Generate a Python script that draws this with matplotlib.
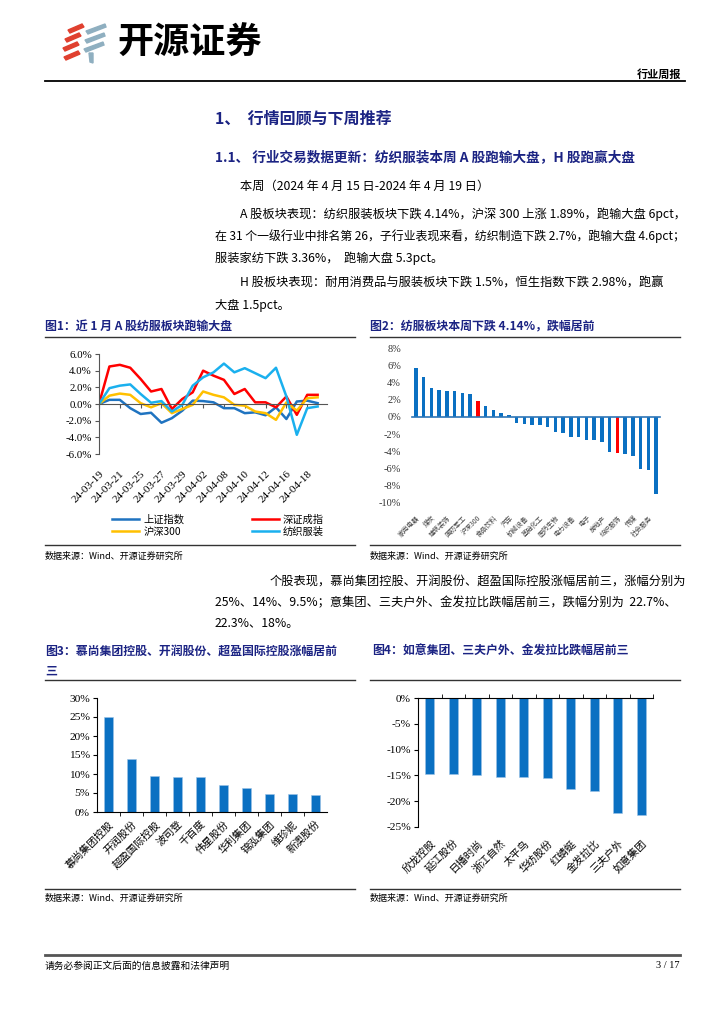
import matplotlib
matplotlib.use('Agg')
import matplotlib.pyplot as plt
from matplotlib.patches import Polygon
from matplotlib.lines import Line2D
import numpy as np

plt.rcParams['font.family'] = ['Noto Sans CJK SC', 'DejaVu Sans']
plt.rcParams['axes.unicode_minus'] = False

# ---------------- data ----------------
dates = ['24-03-19', '24-03-20', '24-03-21', '24-03-22', '24-03-25', '24-03-26',
         '24-03-27', '24-03-28', '24-03-29', '24-04-01', '24-04-02', '24-04-03',
         '24-04-08', '24-04-09', '24-04-10', '24-04-11', '24-04-12', '24-04-15',
         '24-04-16', '24-04-17', '24-04-18', '24-04-19']
sh_index = [0.0, 0.5, 0.5, -0.5, -1.2, -1.05, -2.25, -1.7, -0.8, 0.4, 0.35, 0.2,
            -0.5, -0.5, -1.1, -1.0, -1.35, -0.4, -1.8, 0.3, 0.4, 0.1]
sz_index = [0.0, 4.5, 4.7, 4.35, 3.0, 1.5, 1.8, -0.6, 0.6, 1.4, 4.0, 3.4,
            2.9, 1.2, 1.8, 0.2, 0.2, -0.4, 0.9, -1.3, 1.1, 1.1]
hs300 = [0.0, 1.0, 1.25, 1.1, 0.1, -0.4, 0.1, -1.1, -0.6, -0.1, 1.5, 1.1,
         0.8, -0.1, -0.2, -0.9, -1.1, -1.9, 0.2, -0.8, 0.7, 0.8]
textile = [0.0, 1.9, 2.2, 2.35, 1.2, 0.15, 0.35, -0.9, -0.1, 2.2, 3.2, 3.8,
           4.85, 3.8, 4.3, 3.7, 3.1, 4.35, 0.9, -3.7, -0.5, -0.3]
legend_names = ['上证指数', '深证成指', '沪深300', '纺织服装']

industries = ['家用电器', '有色金属', '煤炭', '石油石化', '建筑装饰', '银行', '国防军工',
              '公用事业', '沪深300', '交通运输', '食品饮料', '非银金融', '汽车', '钢铁',
              '机械设备', '建筑材料', '基础化工', '通信', '医药生物', '环保', '电力设备',
              '农林牧渔', '电子', '轻工制造', '房地产', '商贸零售', '纺织服饰', '美容护理',
              '传媒', '计算机', '社会服务', '综合']
industry_chg = [5.65, 4.58, 3.35, 3.08, 3.0, 3.0, 2.77, 2.69, 1.89, 1.27, 0.77, 0.46,
                0.19, -0.69, -0.77, -0.92, -0.96, -1.15, -1.77, -1.88, -2.3, -2.38,
                -2.65, -2.73, -2.92, -4.04, -4.14, -4.27, -4.54, -6.04, -6.12, -8.96]
highlight = ['沪深300', '纺织服饰']

gainers = ['慕尚集团控股', '开润股份', '超盈国际控股', '波司登', '千百度', '伟星股份',
           '华利集团', '锦泓集团', '维珍妮', '新澳股份']
gainer_chg = [25.0, 14.0, 9.5, 9.3, 9.1, 7.2, 6.4, 4.8, 4.65, 4.5]

losers = ['欣龙控股', '延江股份', '日播时尚', '浙江自然', '太平鸟', '华纺股份',
          '红蜻蜓', '金发拉比', '三夫户外', '如意集团']
loser_chg = [-14.7, -14.8, -14.9, -15.3, -15.3, -15.6, -17.6, -18.0, -22.3, -22.7]

# ---------------- layout helpers ----------------
W, H = 724, 1024
fig = plt.figure(figsize=(7.24, 10.24), dpi=100)


def fx(x):
    return x / W


def fy(y):
    return 1 - y / H


def box(x0, y0, x1, y1):
    return [fx(x0), fy(y1), (x1 - x0) / W, (y1 - y0) / H]


def hline(x0, x1, y, lw=1.0, color='#333333'):
    fig.add_artist(Line2D([fx(x0), fx(x1)], [fy(y), fy(y)], color=color, lw=lw))


def txt(x, y, s, size=9.5, color='black', weight='normal', ha='left', family=None):
    kw = {}
    if family is not None:
        kw['family'] = family
    fig.text(fx(x), fy(y), s, fontsize=size, color=color, fontweight=weight,
             ha=ha, va='center', **kw)


NAVY = '#1B2383'
SERIF = ['Liberation Serif', 'Noto Sans CJK SC']
BLUE_LINE = '#1F73C0'
RED = '#FF0000'
YELLOW = '#FFC000'
LBLUE = '#1AB0EE'
BAR = '#0A70C2'

# ---------------- logo ----------------
red = '#E0402F'
gray = '#8FAFC0'
for (x, y) in [(68, 26), (65, 35), (63, 44), (64, 53)]:
    fig.add_artist(Polygon([(fx(x), fy(y + 4)), (fx(x + 14), fy(y - 2)),
                            (fx(x + 16), fy(y + 1)), (fx(x + 2), fy(y + 7))],
                           closed=True, color=red, transform=fig.transFigure))
for (x, y) in [(86, 27), (85, 36), (84, 45)]:
    fig.add_artist(Polygon([(fx(x), fy(y + 4)), (fx(x + 19), fy(y - 3)),
                            (fx(x + 20), fy(y)), (fx(x + 2), fy(y + 7))],
                           closed=True, color=gray, transform=fig.transFigure))
fig.add_artist(Polygon([(fx(89), fy(53)), (fx(93), fy(53)), (fx(93), fy(63)), (fx(90), fy(62))],
                       closed=True, color=gray, transform=fig.transFigure))
txt(117, 43, '开源证券', size=26, weight='bold')

txt(681, 74, '行业周报', size=8, weight='bold', ha='right')
hline(45, 685, 81, lw=1.3, color='black')

# ---------------- text body ----------------
txt(215, 118, '1、  行情回顾与下周推荐', size=11.5, color=NAVY, weight='bold')
txt(215, 157, '1.1、 行业交易数据更新：纺织服装本周 A 股跑输大盘，H 股跑赢大盘',
    size=9.8, color=NAVY, weight='bold')
BS = 8.8
txt(240, 186, '本周（2024 年 4 月 15 日-2024 年 4 月 19 日）', size=BS)
txt(240, 214, 'A 股板块表现：纺织服装板块下跌 4.14%，沪深 300 上涨 1.89%，跑输大盘 6pct，', size=BS)
txt(215, 236, '在 31 个一级行业中排名第 26，子行业表现来看，纺织制造下跌 2.7%，跑输大盘 4.6pct；', size=8.6)
txt(215, 258, '服装家纺下跌 3.36%，  跑输大盘 5.3pct。', size=BS)
txt(240, 283, 'H 股板块表现：耐用消费品与服装板块下跌 1.5%，恒生指数下跌 2.98%，跑赢', size=BS)
txt(215, 305, '大盘 1.5pct。', size=BS)

txt(270, 582, '个股表现，慕尚集团控股、开润股份、超盈国际控股涨幅居前三，涨幅分别为', size=BS)
txt(215, 603, '25%、14%、9.5%；意集团、三夫户外、金发拉比跌幅居前三，跌幅分别为  22.7%、', size=BS)
txt(215, 624, '22.3%、18%。', size=BS)

# ---------------- Figure 1 ----------------
txt(45, 326, '图1：近 1 月 A 股纺服板块跑输大盘', size=8.6, color=NAVY, weight='bold')
hline(45, 355, 337)
ax1 = fig.add_axes(box(99, 354, 327, 454))
xi = np.arange(len(dates))
l1, = ax1.plot(xi, sh_index, color=BLUE_LINE, lw=1.8)
l2, = ax1.plot(xi, sz_index, color=RED, lw=1.8)
l3, = ax1.plot(xi, hs300, color=YELLOW, lw=1.8)
l4, = ax1.plot(xi, textile, color=LBLUE, lw=1.8)
ax1.set_ylim(-6, 6)
ax1.set_xlim(0, 21.9)
yt = np.arange(-6, 7, 2)
ax1.set_yticks(yt)
ax1.set_yticklabels([f'{v:.1f}%' for v in yt], family=SERIF, fontsize=7.8)
ax1.spines['top'].set_visible(False)
ax1.spines['right'].set_visible(False)
ax1.spines['bottom'].set_position(('data', 0))
ax1.spines['left'].set_color('#555555')
ax1.spines['bottom'].set_color('#555555')
ax1.set_xticks(xi[::2])
ax1.set_xticklabels(dates[::2], rotation=45, ha='right', va='top',
                    rotation_mode='anchor', family=SERIF, fontsize=8)
ax1.tick_params(axis='x', length=3, pad=44, color='#555555')
ax1.tick_params(axis='y', length=3, pad=2, color='#555555')
fig.legend([l1, l3, l2, l4], [legend_names[0], legend_names[2], legend_names[1], legend_names[3]],
           ncol=2, loc='upper left', bbox_to_anchor=(fx(103), fy(505)), frameon=False,
           fontsize=7.4, handlelength=2.6, columnspacing=6.6, labelspacing=0.2, handletextpad=0.4)
hline(45, 355, 545)
txt(45, 556, '数据来源：Wind、开源证券研究所', size=6.5)

# ---------------- Figure 2 ----------------
txt(370, 326, '图2：纺服板块本周下跌 4.14%，跌幅居前', size=8.6, color=NAVY, weight='bold')
hline(370, 680, 337)
ax2 = fig.add_axes(box(412, 348, 660, 503))
xi2 = np.arange(len(industries))
cols = [RED if n in highlight else BAR for n in industries]
ax2.bar(xi2, industry_chg, width=0.42, color=cols)
ax2.set_ylim(-10, 8)
ax2.set_xlim(-0.5, len(industries) - 0.5)
yt2 = np.arange(-10, 9, 2)
ax2.set_yticks(yt2)
ax2.set_yticklabels([f'{v}%' for v in yt2], family=SERIF, fontsize=7.5, color='#333333')
for s in ['top', 'right', 'left']:
    ax2.spines[s].set_visible(False)
ax2.spines['bottom'].set_position(('data', 0))
ax2.spines['bottom'].set_color('#2E75B6')
ax2.spines['bottom'].set_linewidth(1.2)
ax2.set_xticks(xi2[::2])
ax2.set_xticklabels(industries[::2], rotation=45, ha='right', va='top',
                    rotation_mode='anchor', fontsize=4.8, color='#444444')
ax2.tick_params(axis='x', length=0, pad=70)
ax2.tick_params(axis='y', length=0, pad=8)
hline(370, 680, 545)
txt(370, 556, '数据来源：Wind、开源证券研究所', size=6.5)

# ---------------- Figure 3 ----------------
txt(45, 651, '图3：慕尚集团控股、开润股份、超盈国际控股涨幅居前', size=8.6, color=NAVY, weight='bold')
txt(45, 671, '三', size=8.6, color=NAVY, weight='bold')
hline(45, 355, 680)
ax3 = fig.add_axes(box(97, 698, 327, 812))
xi3 = np.arange(len(gainers))
ax3.bar(xi3, gainer_chg, width=0.42, color=BAR, edgecolor='#9CC3E6', linewidth=0.4)
ax3.set_ylim(0, 30)
ax3.set_xlim(-0.5, len(gainers) - 0.5)
yt3 = np.arange(0, 31, 5)
ax3.set_yticks(yt3)
ax3.set_yticklabels([f'{v}%' for v in yt3], family=SERIF, fontsize=8.2)
ax3.spines['top'].set_visible(False)
ax3.spines['right'].set_visible(False)
ax3.set_xticks(xi3)
ax3.set_xticklabels(gainers, rotation=45, ha='right', va='top',
                    rotation_mode='anchor', fontsize=7.5)
ax3.set_xticks(xi3[:-1] + 0.5, minor=True)
ax3.tick_params(axis='x', which='major', length=0, pad=5)
ax3.tick_params(axis='x', which='minor', length=3)
ax3.tick_params(axis='y', length=3, pad=2)
hline(45, 355, 889)
txt(45, 898, '数据来源：Wind、开源证券研究所', size=6.5)

# ---------------- Figure 4 ----------------
txt(372, 651, '图4：如意集团、三夫户外、金发拉比跌幅居前三', size=8.6, color=NAVY, weight='bold')
hline(370, 680, 680)
ax4 = fig.add_axes(box(418, 698, 653, 827))
xi4 = np.arange(len(losers))
ax4.bar(xi4, loser_chg, width=0.4, color=BAR, edgecolor='#9CC3E6', linewidth=0.4)
ax4.set_ylim(-25, 0)
ax4.set_xlim(-0.5, len(losers) - 0.5)
yt4 = np.arange(-25, 1, 5)
ax4.set_yticks(yt4)
ax4.set_yticklabels([f'{v}%' for v in yt4], family=SERIF, fontsize=8.2)
ax4.spines['bottom'].set_visible(False)
ax4.spines['right'].set_visible(False)
ax4.set_xticks(xi4)
ax4.set_xticklabels(losers, rotation=45, ha='right', va='top',
                    rotation_mode='anchor', fontsize=7.5)
ax4.set_xticks(np.arange(len(losers)) + 0.5, minor=True)
ax4.tick_params(axis='x', which='major', length=0, pad=8)
ax4.tick_params(axis='x', which='minor', top=True, bottom=False, length=3)
ax4.tick_params(axis='y', length=3, pad=2)
hline(370, 680, 889)
txt(370, 898, '数据来源：Wind、开源证券研究所', size=6.5)

# ---------------- footer ----------------
hline(45, 680, 955, lw=2.0, color='#555555')
txt(45, 966, '请务必参阅正文后面的信息披露和法律声明', size=7)
txt(680, 966, '3 / 17', size=7.5, ha='right', family=SERIF)

fig.savefig('out.png', dpi=100, facecolor='white')
